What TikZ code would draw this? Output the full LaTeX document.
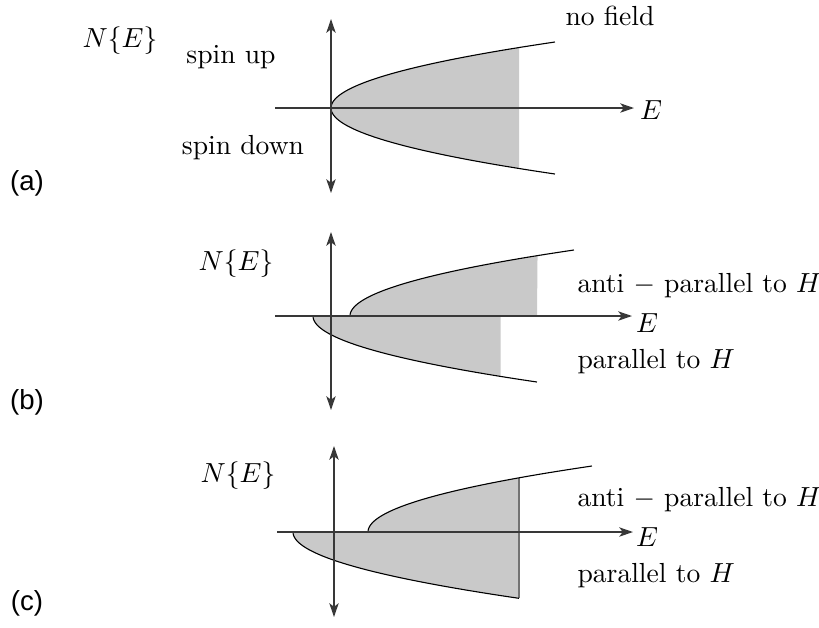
\documentclass[tikz,border=0pt]{standalone}
\usepackage{amsmath}
\usepackage{fontspec}
\usepackage{tikz}
\usetikzlibrary{arrows.meta}
\newfontfamily\panelfont{Liberation Sans}
\definecolor{bandgray}{gray}{0.79}

\begin{document}
\begin{tikzpicture}[x=0.3623pt, y=-0.3623pt,
    axis/.style={draw=black!78, line width=0.5pt, -{Stealth[length=5pt,width=3.4pt,inset=1.3pt]}},
    bothaxis/.style={axis, {Stealth[length=5pt,width=3.4pt,inset=1.3pt]}-{Stealth[length=5pt,width=3.4pt,inset=1.3pt]}},
    band/.style={line width=0.4pt},
    lbl/.style={inner sep=0pt},
    panel/.style={inner sep=0pt, font=\panelfont}]
  \useasboundingbox (0,0) rectangle (819,627);

  % (a) no field
  \fill[bandgray] plot[domain=-60.5:60.5, samples=60] ({331+0.0514*\x*\x},{108+\x}) -- cycle;
  \draw[band] plot[domain=-66:66, samples=80] ({331+0.0514*\x*\x},{108+\x});
  \coordinate (a-l) at (275,108);  \coordinate (a-r) at (634,108);
  \coordinate (a-t) at (331,19);   \coordinate (a-b) at (331,193);
  \draw[axis] (a-l) -- (a-r);
  \draw[bothaxis] (a-b) -- (a-t);
  \node[lbl] (a-N) at (120,41) {$N\{E\}$};
  \node[lbl] (a-up) at (231,57) {spin up};
  \node[lbl] (a-down) at (243,148) {spin down};
  \node[lbl] (a-nf) at (610,16) {no field};
  \node[lbl] (a-E) at (651,110) {$E$};
  \node[panel] (a-tag) at (27,183) {(a)};

  % (b) small field
  \fill[bandgray] plot[domain=0:60.4, samples=40] ({350+0.0514*\x*\x},{316-\x}) -- (537,316) -- cycle;
  \fill[bandgray] plot[domain=0:60.4, samples=40] ({313+0.0514*\x*\x},{316+\x}) -- (500.5,316) -- cycle;
  \draw[band] plot[domain=0:66, samples=50] ({350+0.0514*\x*\x},{316-\x});
  \draw[band] plot[domain=0:66, samples=50] ({313+0.0514*\x*\x},{316+\x});
  \coordinate (b-l) at (275,316);  \coordinate (b-r) at (632,316);
  \coordinate (b-t) at (331,232);  \coordinate (b-b) at (331,410);
  \draw[axis] (b-l) -- (b-r);
  \draw[bothaxis] (b-b) -- (b-t);
  \node[lbl] (b-N) at (236,264) {$N\{E\}$};
  \node[lbl, anchor=west] (b-anti) at (577,286) {anti $-$ parallel to $H$};
  \node[lbl] (b-E) at (647,323) {$E$};
  \node[lbl, anchor=west] (b-par) at (577,362) {parallel to $H$};
  \node[panel] (b-tag) at (27,402) {(b)};

  % (c) strong field
  \fill[bandgray] plot[domain=0:54.2, samples=40] ({368+0.0514*\x*\x},{532-\x}) -- (519,532) -- cycle;
  \fill[bandgray] plot[domain=0:66.3, samples=40] ({293+0.0514*\x*\x},{532+\x}) -- (519,532) -- cycle;
  \draw[black!55, line width=0.4pt] (519,478) -- (519,598);
  \draw[band] plot[domain=0:66, samples=50] ({368+0.0514*\x*\x},{532-\x});
  \draw[band] plot[domain=0:66.3, samples=50] ({293+0.0514*\x*\x},{532+\x});
  \coordinate (c-l) at (277,532);  \coordinate (c-r) at (633,532);
  \coordinate (c-t) at (334,446);  \coordinate (c-b) at (334,617);
  \draw[axis] (c-l) -- (c-r);
  \draw[bothaxis] (c-b) -- (c-t);
  \node[lbl] (c-N) at (238,476) {$N\{E\}$};
  \node[lbl, anchor=west] (c-anti) at (577,500) {anti $-$ parallel to $H$};
  \node[lbl] (c-E) at (647,537) {$E$};
  \node[lbl, anchor=west] (c-par) at (577,576) {parallel to $H$};
  \node[panel] (c-tag) at (27,603) {(c)};
\end{tikzpicture}
\end{document}
